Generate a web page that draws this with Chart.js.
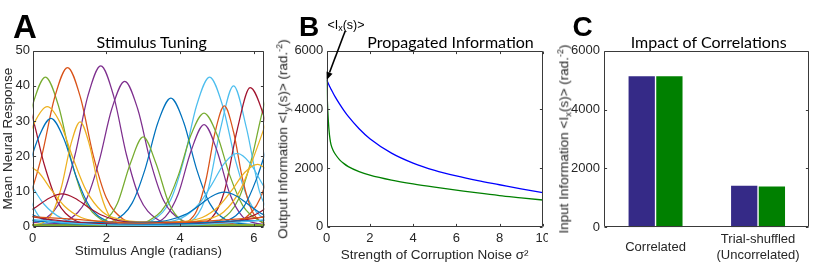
<!DOCTYPE html>
<html>
<head>
<meta charset="utf-8">
<script src="https://cdn.jsdelivr.net/npm/chart.js@4.4.1/dist/chart.umd.min.js"></script>
<style>
html,body{margin:0;padding:0;background:#fff;}
body{width:830px;height:269px;position:relative;overflow:hidden;font-family:"Liberation Sans",Arial,sans-serif;}
.pane{position:absolute;top:0;}
.txt{position:absolute;white-space:nowrap;line-height:1;}
.letter{font-weight:bold;color:#000;}
.ptitle{font-family:Lato,"Open Sans",sans-serif;font-size:16px;color:#000;transform:translateX(-50%);}
.ylab{font-size:13.5px;color:#262626;transform:translate(-50%,-50%) rotate(-90deg);}
.sub{font-size:9.5px;position:relative;top:3px;}
.sup{font-size:9px;position:relative;top:-5px;}
</style>
</head>
<body>
<div class="pane" style="left:0;width:275px;height:269px"><canvas id="chartA" width="275" height="269"></canvas></div>
<div class="pane" style="left:275px;width:273px;height:269px"><canvas id="chartB" width="273" height="269"></canvas></div>
<div class="pane" style="left:548px;width:282px;height:269px"><canvas id="chartC" width="282" height="269"></canvas></div>

<div class="txt letter" style="left:13px;top:9.5px;font-size:33px">A</div>
<div class="txt letter" style="left:299px;top:12.5px;font-size:28px">B</div>
<div class="txt letter" style="left:572.5px;top:13px;font-size:28px">C</div>

<div class="txt ptitle" style="left:151.7px;top:34px">Stimulus Tuning</div>
<div class="txt ptitle" style="left:450.5px;top:34px">Propagated Information</div>
<div class="txt ptitle" style="left:708.7px;top:34px">Impact of Correlations</div>

<div class="txt" style="left:346px;top:19px;font-size:12.5px;color:#000;transform:translateX(-50%)">&lt;I<span class="sub" style="font-size:9px;top:2px">x</span>(s)&gt;</div>

<div class="txt ylab" style="left:283px;top:139px">Output Information &lt;I<span class="sub">y</span>(s)&gt; (rad.<span class="sup">-2</span>)</div>
<div class="txt ylab" style="left:564px;top:139px">Input Information &lt;I<span class="sub">x</span>(s)&gt; (rad.<span class="sup">-2</span>)</div>

<script>
// ---------------- Panel A data: tuning curves [angle (rad), mean response] ----------------
const angleTicks = [0, 2, 4, 6];
const responseTicks = [0, 10, 20, 30, 40, 50];

const tuning01 = [[-1.65,0.8],[-1.15,2.1],[-0.7,7.7],[-0.35,18.9],[0,34.5],[0.35,42.5],[0.7,34.5],[1.05,18.9],[1.4,7.7],[1.85,2.1],[2.35,0.8],[4.63,0.8],[5.13,2.1],[5.58,7.7],[5.93,18.9],[6.28,34.5],[6.63,42.5]];
const tuning02 = [[-1.05,0.8],[-0.55,2.2],[-0.1,8.2],[0.25,20.1],[0.6,36.7],[0.95,45.2],[1.3,36.7],[1.65,20.1],[2.0,8.2],[2.45,2.2],[2.95,0.8],[5.23,0.8],[5.73,2.2],[6.18,8.2],[6.53,20.1]];
const tuning03 = [[-0.15,0.8],[0.35,2.3],[0.8,8.3],[1.15,20.3],[1.5,37.1],[1.85,45.7],[2.2,37.1],[2.55,20.3],[2.9,8.3],[3.35,2.3],[3.85,0.8],[6.4,0.6]];
const tuning04 = [[-0.1,0.6],[0.5,0.8],[1.0,2.1],[1.45,7.5],[1.8,18.4],[2.15,33.5],[2.5,41.3],[2.85,33.5],[3.2,18.4],[3.55,7.5],[4.0,2.1],[4.5,0.8],[6.4,0.6]];
const tuning05 = [[-0.1,0.6],[1.75,0.8],[2.25,1.9],[2.7,6.7],[3.05,16.3],[3.4,29.6],[3.75,36.5],[4.1,29.6],[4.45,16.3],[4.8,6.7],[5.25,1.9],[5.75,0.8],[6.4,0.6]];
const tuning06 = [[-0.13,2.1],[0.37,0.8],[2.8,0.8],[3.3,2.1],[3.75,7.7],[4.1,18.9],[4.45,34.5],[4.8,42.5],[5.15,34.5],[5.5,18.9],[5.85,7.7],[6.3,2.1],[6.8,0.8]];
const tuning07 = [[-0.48,28.0],[-0.13,10.1],[0.22,2.4],[0.67,0.7],[3.95,0.7],[4.4,2.4],[4.75,10.1],[5.1,28.0],[5.45,40.0],[5.8,28.0],[6.15,10.1],[6.5,2.4]];
const tuning08 = [[-0.38,39.5],[-0.03,32.1],[0.32,17.6],[0.67,7.2],[1.12,2.0],[1.62,0.8],[4.4,0.7],[4.85,2.4],[5.2,10.0],[5.55,27.6],[5.9,39.5],[6.25,32.1],[6.6,17.6]];
const tuning09 = [[-0.1,0.5],[3.9,0.6],[4.2,1.35],[4.45,4.5],[4.7,13.2],[4.95,26.9],[5.2,34.3],[5.45,26.9],[5.7,13.2],[5.95,4.5],[6.2,1.35],[6.5,0.6]];
const tuning10 = [[-0.1,0.5],[2.65,0.7],[3.15,1.7],[3.6,6.0],[3.95,14.5],[4.3,26.2],[4.65,32.3],[5.0,26.2],[5.35,14.5],[5.7,6.0],[6.15,1.7],[6.65,0.7]];
const tuning11 = [[-0.1,0.5],[3.15,0.8],[3.6,2.8],[3.95,9.3],[4.3,21.6],[4.65,29.0],[5.0,21.6],[5.35,9.3],[5.7,2.8],[6.15,0.8],[6.4,0.5]];
const tuning12 = [[-0.2,13.8],[0.15,25.0],[0.5,30.8],[0.85,25.0],[1.2,13.8],[1.55,5.7],[2.0,1.7],[2.5,0.7],[4.78,0.7],[5.28,1.7],[5.73,5.7],[6.08,13.8],[6.43,25.0]];
const tuning13 = [[-0.1,0.5],[0.0,0.6],[0.29,1.2],[0.54,3.9],[0.79,11.5],[1.04,23.4],[1.29,29.8],[1.54,23.4],[1.79,11.5],[2.04,3.9],[2.29,1.2],[2.59,0.6],[6.4,0.5]];
const tuning14 = [[-0.1,0.5],[1.5,0.6],[1.95,1.7],[2.3,6.6],[2.65,17.9],[3.0,25.5],[3.35,17.9],[3.7,6.6],[4.05,1.7],[4.5,0.6],[6.4,0.5]];
const tuning15 = [[-0.3,19.4],[0.05,29.5],[0.4,34.1],[0.75,29.5],[1.1,19.4],[1.45,10.4],[1.9,4.2],[2.4,2.0],[2.9,1.4],[4.18,1.4],[4.68,2.0],[5.18,4.2],[5.63,10.4],[5.98,19.4],[6.33,29.5]];
const tuning16 = [[-0.38,18.0],[-0.03,11.8],[0.32,6.3],[0.77,2.5],[1.27,1.1],[1.77,0.7],[3.05,0.7],[3.55,1.1],[4.05,2.5],[4.5,6.3],[4.85,11.8],[5.2,18.0],[5.55,20.8],[5.9,18.0],[6.25,11.8],[6.6,6.3]];
const tuning17 = [[-0.18,17.7],[0.17,15.4],[0.52,10.3],[0.87,5.8],[1.32,2.6],[1.82,1.5],[2.32,1.2],[3.6,1.2],[4.1,1.5],[4.6,2.6],[5.05,5.8],[5.4,10.3],[5.75,15.4],[6.1,17.7],[6.45,15.4]];
const tuning18 = [[-0.38,5.9],[-0.03,3.5],[0.42,1.9],[0.92,1.3],[2.7,1.2],[3.2,1.3],[3.7,1.9],[4.15,3.5],[4.5,5.9],[4.85,8.6],[5.2,9.8],[5.55,8.6],[5.9,5.9],[6.25,3.5],[6.7,1.9]];
const tuning19 = [[-0.25,3.4],[0.1,5.6],[0.45,8.1],[0.8,9.3],[1.15,8.1],[1.5,5.6],[1.85,3.4],[2.3,1.8],[2.8,1.2],[5.08,1.2],[5.58,1.8],[6.03,3.4],[6.38,5.6]];
const tuning20 = [[-0.1,2.9],[1,2.2],[2,1.4],[3,1.0],[4,1.2],[5,1.8],[6.4,2.8]];
const tuning21 = [[-0.1,2.2],[1,1.0],[2,0.5],[3.2,0.4],[4.5,0.6],[5.5,1.2],[6.4,2.0]];
const tuning22 = [[-0.1,0.3],[6.4,0.3]];
const tuning23 = [[-0.1,1.8],[1.2,0.8],[2.5,0.5],[4.2,0.9],[5.3,1.6],[6.4,1.8]];
const tuning24 = [[-0.1,3.0],[0.5,2.0],[1.5,1.0],[3,0.6],[4.5,0.8],[5.5,1.6],[6.4,3.0]];

const tuningCurves = [tuning20,tuning21,tuning22,tuning23,tuning24,tuning18,tuning19,tuning17,tuning16,
  tuning14,tuning13,tuning12,tuning15,tuning11,tuning10,tuning09,tuning05,tuning04,tuning03,
  tuning08,tuning07,tuning06,tuning02,tuning01];

// ---------------- Panel B data ----------------
const noiseLevels = [0, 0.02, 0.05, 0.1, 0.15, 0.2, 0.3, 0.4, 0.6, 0.8, 1, 1.5, 2, 3, 4, 5, 6, 7, 8, 9, 10];
const outputInfoBlue  = [5000, 4970, 4920, 4840, 4760, 4690, 4550, 4420, 4180, 3960, 3760, 3340, 3000, 2510, 2170, 1920, 1730, 1570, 1430, 1290, 1160];
const outputInfoGreen = [5000, 4500, 3950, 3350, 3000, 2800, 2600, 2470, 2280, 2150, 2050, 1880, 1760, 1590, 1460, 1350, 1250, 1150, 1060, 985, 910];
const noiseTicks = [0, 2, 4, 6, 8, 10];
const infoTicks = [0, 2000, 4000, 6000];
const inputInfoMarker = [0, 5000];

// ---------------- Panel C data ----------------
const conditionLabels = ['Correlated', ['Trial-shuffled', '(Uncorrelated)']];
const inputInfoFirst  = [5130, 1410];
const inputInfoSecond = [5130, 1390];

// ---------------- styling ----------------
const FONT = '"Liberation Sans", Arial, Helvetica, sans-serif';
Chart.defaults.font.family = FONT;
Chart.defaults.color = '#262626';
const matlabColors = {blue:'#0072BD', orange:'#D95319', yellow:'#EDB120', purple:'#7E2F8E', green:'#77AC30', lightblue:'#4DBEEE', darkred:'#A2142F'};
const tuningColors = ['orange','lightblue','green','blue','darkred','blue','darkred','yellow','lightblue',
  'green','yellow','blue','yellow','purple','green','orange','blue','purple','purple',
  'darkred','lightblue','lightblue','orange','green'].map(k => matlabColors[k]);

const boxTicks = {
  id: 'boxTicks',
  afterDraw(chart) {
    const opts = chart.options.plugins.boxTicks || {};
    const ctx = chart.ctx;
    const ca = chart.chartArea;
    const left = Math.round(ca.left) + 0.5, right = Math.round(ca.right) - 0.5;
    const top = Math.round(ca.top) + 0.5, bottom = Math.round(ca.bottom) - 0.5;
    ctx.save();
    ctx.strokeStyle = '#3a3a3a';
    ctx.lineWidth = 1;
    ctx.beginPath();
    ctx.rect(left, top, right - left, bottom - top);
    ctx.stroke();
    const L = 2.6;
    const seg = (a, b, c, d) => { ctx.beginPath(); ctx.moveTo(a, b); ctx.lineTo(c, d); ctx.stroke(); };
    if (opts.xTicks) {
      const xs = chart.scales.x;
      xs.ticks.forEach(t => { const p = Math.round(xs.getPixelForValue(t.value)) + 0.5; seg(p, bottom, p, bottom - L); seg(p, top, p, top + L); });
    }
    const ys = chart.scales.y;
    ys.ticks.forEach(t => { const p = Math.round(ys.getPixelForValue(t.value)) + 0.5; seg(left, p, left + L, p); seg(right, p, right - L, p); });
    ctx.restore();
  }
};

const arrowNote = {
  id: 'arrowNote',
  afterDraw(chart) {
    const opts = chart.options.plugins.arrowNote;
    if (!opts || !opts.target) return;
    const xs = chart.scales.x, ys = chart.scales.y;
    const tx = xs.getPixelForValue(opts.target[0]), ty = ys.getPixelForValue(opts.target[1]);
    const sx = tx + opts.tail[0], sy = ty + opts.tail[1];
    const ang = Math.atan2(ty - sy, tx - sx);
    const ctx = chart.ctx;
    ctx.save();
    ctx.strokeStyle = '#000'; ctx.fillStyle = '#000'; ctx.lineWidth = 1.6;
    const hl = 8, hw = 3.2;
    const bx = tx - hl * Math.cos(ang), by = ty - hl * Math.sin(ang);
    ctx.beginPath(); ctx.moveTo(sx, sy); ctx.lineTo(bx, by); ctx.stroke();
    ctx.beginPath();
    ctx.moveTo(tx, ty);
    ctx.lineTo(bx + hw * Math.sin(ang), by - hw * Math.cos(ang));
    ctx.lineTo(bx - hw * Math.sin(ang), by + hw * Math.cos(ang));
    ctx.closePath(); ctx.fill();
    ctx.restore();
  }
};

const tickFont = {family: FONT, size: 13};
const labelFont = {family: FONT, size: 13.5};
const fixedTicks = arr => (s => { s.ticks = arr.map(v => ({value: v})); });
const plainLabel = v => String(v);
const fixX = h => (s => { s.height = h; s.paddingLeft = 0; s.paddingRight = 0; });
const fixY = w => (s => { s.width = w; s.paddingTop = 0; s.paddingBottom = 0; });

// ---------------- Chart A ----------------
new Chart(document.getElementById('chartA'), {
  type: 'line',
  plugins: [boxTicks],
  data: {
    datasets: tuningCurves.map((pts, i) => ({
      data: pts, borderColor: tuningColors[i], borderWidth: 1.25, pointRadius: 0,
      cubicInterpolationMode: 'monotone', fill: false, clip: 0
    }))
  },
  options: {
    responsive: false, animation: false, events: [],
    layout: {padding: {left: 0, top: 50.7, right: 10.7, bottom: 0}},
    plugins: {legend: {display: false}, tooltip: {enabled: false}, boxTicks: {xTicks: true}},
    scales: {
      x: {type: 'linear', min: 0, max: 2 * Math.PI, afterBuildTicks: fixedTicks(angleTicks),
        afterFit: fixX(42.3),
        grid: {display: false, drawTicks: false}, border: {display: false},
        ticks: {padding: 4, font: tickFont, color: '#262626', callback: plainLabel},
        title: {display: true, text: 'Stimulus Angle (radians)', font: labelFont, color: '#262626', padding: {top: 0, bottom: 10}}},
      y: {type: 'linear', min: 0, max: 50, afterBuildTicks: fixedTicks(responseTicks),
        afterFit: fixY(32.5),
        grid: {display: false, drawTicks: false}, border: {display: false},
        ticks: {padding: 2.5, font: tickFont, color: '#262626', callback: plainLabel},
        title: {display: true, text: 'Mean Neural Response', font: labelFont, color: '#262626', padding: {top: 0, bottom: 0}}}
    }
  }
});

// ---------------- Chart B ----------------
new Chart(document.getElementById('chartB'), {
  type: 'line',
  plugins: [boxTicks, arrowNote],
  data: {
    datasets: [
      {data: noiseLevels.map((x, i) => ({x, y: outputInfoBlue[i]})), borderColor: '#0000FF', borderWidth: 1.3, pointRadius: 0, cubicInterpolationMode: 'monotone', clip: 0},
      {data: noiseLevels.map((x, i) => ({x, y: outputInfoGreen[i]})), borderColor: '#008000', borderWidth: 1.3, pointRadius: 0, cubicInterpolationMode: 'monotone', clip: 0}
    ]
  },
  options: {
    responsive: false, animation: false, events: [],
    layout: {padding: {left: 0, top: 50.7, right: 5.3, bottom: 0}},
    plugins: {legend: {display: false}, tooltip: {enabled: false}, boxTicks: {xTicks: true},
      arrowNote: {target: inputInfoMarker, tail: [18.5, -49]}},
    scales: {
      x: {type: 'linear', min: 0, max: 10, afterBuildTicks: fixedTicks(noiseTicks),
        afterFit: fixX(42.3),
        grid: {display: false, drawTicks: false}, border: {display: false},
        ticks: {padding: 4, font: tickFont, color: '#262626', callback: plainLabel},
        title: {display: true, text: 'Strength of Corruption Noise \u03C3\u00B2', font: labelFont, color: '#262626', padding: {top: 0, bottom: 6}}},
      y: {type: 'linear', min: 0, max: 6000, afterBuildTicks: fixedTicks(infoTicks),
        afterFit: fixY(51.7),
        grid: {display: false, drawTicks: false}, border: {display: false},
        ticks: {padding: 3.4, font: tickFont, color: '#262626', callback: plainLabel}}
    }
  }
});

// ---------------- Chart C ----------------
new Chart(document.getElementById('chartC'), {
  type: 'bar',
  plugins: [boxTicks],
  data: {
    labels: conditionLabels,
    datasets: [
      {data: inputInfoFirst, backgroundColor: '#352A87', borderWidth: 0},
      {data: inputInfoSecond, backgroundColor: '#008000', borderWidth: 0}
    ]
  },
  options: {
    responsive: false, animation: false, events: [],
    layout: {padding: {left: 0, top: 50.7, right: 20.7, bottom: 0}},
    datasets: {bar: {categoryPercentage: 0.54, barPercentage: 0.95}},
    plugins: {legend: {display: false}, tooltip: {enabled: false}, boxTicks: {xTicks: false}},
    scales: {
      x: {afterFit: fixX(41.7),
        grid: {display: false, drawTicks: false}, border: {display: false},
        ticks: {padding: 12.5, font: tickFont, color: '#262626', crossAlign: 'center', maxRotation: 0, autoSkip: false}},
      y: {type: 'linear', min: 0, max: 6000, afterBuildTicks: fixedTicks(infoTicks),
        afterFit: fixY(56.3),
        grid: {display: false, drawTicks: false}, border: {display: false},
        ticks: {padding: 4.3, font: tickFont, color: '#262626', callback: plainLabel}}
    }
  }
});
</script>
</body>
</html>
